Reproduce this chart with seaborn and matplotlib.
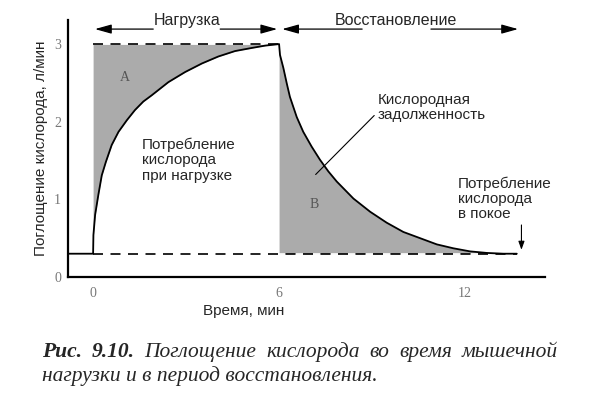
import numpy as np
import pandas as pd
import seaborn as sns
import matplotlib.pyplot as plt

# values (time in min, VO2 in l/min)
t_pre = [-0.81, 0.0]
vo2_pre = [0.30, 0.30]
t_load = [0.0, 0.01, 0.065, 0.17, 0.28, 0.41, 0.60, 0.82, 1.09, 1.35, 1.62,
          1.89, 2.43, 2.97, 3.51, 4.04, 4.58, 5.12, 5.55, 6.0]
vo2_load = [0.30, 0.54, 0.80, 1.06, 1.31, 1.48, 1.70, 1.87, 2.02, 2.15, 2.26,
            2.34, 2.51, 2.64, 2.75, 2.84, 2.91, 2.95, 2.98, 3.0]
t_rec = [6.0, 6.03, 6.14, 6.25, 6.35, 6.57, 6.78, 7.05, 7.32, 7.59, 7.86,
         8.40, 8.94, 9.47, 10.01, 10.55, 11.09, 11.62, 12.16, 12.70, 13.24, 13.67]
vo2_rec = [3.0, 2.86, 2.69, 2.49, 2.32, 2.06, 1.87, 1.68, 1.51, 1.36, 1.23,
           1.01, 0.84, 0.70, 0.58, 0.50, 0.42, 0.37, 0.33, 0.31, 0.30, 0.30]
vo2_rest = 0.30
vo2_peak = 3.0
x_ticks = [0, 6, 12]
x_minor = [1, 2, 3, 4, 5, 7, 8, 9, 10, 11]
y_ticks = [0, 1, 2, 3]

curve = pd.DataFrame({
    't': t_pre + t_load[1:] + t_rec[1:],
    'vo2': vo2_pre + vo2_load[1:] + vo2_rec[1:],
})

sns.set_style('white')
plt.rcParams['font.family'] = ['Liberation Sans', 'DejaVu Sans']
serif = ['Liberation Serif', 'DejaVu Serif']

fig = plt.figure(figsize=(6, 3.97), dpi=100)
ax = fig.add_axes([68 / 600, 1 - 277 / 397, 477 / 600, 257 / 397])

grey = '#ababab'
ax.fill_between(t_load, vo2_load, vo2_peak, color=grey, lw=0, zorder=1)
ax.fill_between(t_rec, vo2_rest, vo2_rec, color=grey, lw=0, zorder=1)

# dashed reference levels
ax.plot([t_load[0], t_load[-1]], [vo2_peak, vo2_peak], color='black', lw=1.2,
        dashes=(6, 4.5), gapcolor='white', zorder=2)
ax.plot([t_load[0], t_rec[-1]], [vo2_rest, vo2_rest], color='black', lw=1.2,
        dashes=(6, 4.5), gapcolor='white', zorder=2)

sns.lineplot(data=curve, x='t', y='vo2', color='black', lw=1.3, sort=False,
             estimator=None, ax=ax, zorder=3)

ax.set_xlim(-0.81, 14.58)
ax.set_ylim(0, 3.31)
ax.set_xticks(x_ticks)
ax.set_xticks(x_minor, minor=True)
ax.set_yticks(y_ticks)
ax.tick_params(which='major', direction='in', length=9, width=1.0,
               color='black', labelcolor='#777777', labelsize=10)
ax.tick_params(axis='x', which='major', pad=7)
ax.tick_params(axis='y', which='major', pad=5)
ax.tick_params(axis='x', which='minor', direction='in', length=2.5,
               width=0.8, color='#999999')
for lbl in ax.get_xticklabels() + ax.get_yticklabels():
    lbl.set_family(serif)

sns.despine(ax=ax)
for side in ['left', 'bottom']:
    ax.spines[side].set_color('black')
    ax.spines[side].set_linewidth(1.6)

ax.set_xlabel('Время, мин', fontsize=11)
ax.set_ylabel('Поглощение кислорода, л/мин', fontsize=11)
ax.xaxis.set_label_coords(0.369, -0.105)
ax.yaxis.set_label_coords(-0.042, 0.5)

# phase arrows on top
y_arr = 3.193
big_head = dict(arrowstyle='-|>,head_length=1.0,head_width=0.28',
                color='black', lw=0.9, shrinkA=0, shrinkB=0)
for start, end in [(1.94, 0.06), (4.10, 5.94), (8.68, 6.10), (10.9, 13.71)]:
    ax.annotate('', xy=(end, y_arr), xytext=(start, y_arr), arrowprops=big_head)
ax.text(3.03, 3.31, 'Нагрузка', ha='center', va='center', fontsize=11.5)
ax.text(9.77, 3.31, 'Восстановление', ha='center', va='center', fontsize=11.5)

# area labels
ax.text(1.04, 2.57, 'A', ha='center', va='center', fontsize=10,
        color='#555555', family=serif)
ax.text(7.12, 0.93, 'B', ha='center', va='center', fontsize=10,
        color='#555555', family=serif)

ax.text(1.58, 1.80, 'Потребление\nкислорода\nпри нагрузке', ha='left',
        va='top', fontsize=11, linespacing=1.15)
ax.text(9.19, 2.37, 'Кислородная\nзадолженность', ha='left', va='top',
        fontsize=11, linespacing=1.1)
ax.annotate('', xy=(7.18, 1.32), xytext=(9.07, 2.08),
            arrowprops=dict(arrowstyle='-', color='black', lw=0.8,
                            shrinkA=0, shrinkB=0))
ax.text(11.77, 1.29, 'Потребление\nкислорода\nв покое', ha='left', va='top',
        fontsize=11, linespacing=1.1)
ax.annotate('', xy=(13.82, 0.35), xytext=(13.82, 0.67),
            arrowprops=dict(arrowstyle='-|>,head_length=0.5,head_width=0.18',
                            color='black', lw=0.8, shrinkA=0, shrinkB=0))

# caption, first line justified between 42 and 558 px
cap_size = 15.5
line1 = [('Рис.', 'bold'), ('9.10.', 'bold'), ('Поглощение', 'normal'),
         ('кислорода', 'normal'), ('во', 'normal'), ('время', 'normal'),
         ('мышечной', 'normal')]
y1 = 1 - 357 / 397
words = [fig.text(0, y1, w, fontsize=cap_size, style='italic', weight=wt,
                  family=serif, va='baseline') for w, wt in line1]
fig.canvas.draw()
renderer = fig.canvas.get_renderer()
widths = [t.get_window_extent(renderer).width for t in words]
gap = (558 - 42 - sum(widths)) / (len(words) - 1)
xp = 42.0
for t, w in zip(words, widths):
    t.set_x(xp / 600)
    xp += w + gap
fig.text(42 / 600, 1 - 381 / 397, 'нагрузки и в период восстановления.',
         fontsize=cap_size, style='italic', family=serif, va='baseline')

fig.savefig('out.png', dpi=100)
